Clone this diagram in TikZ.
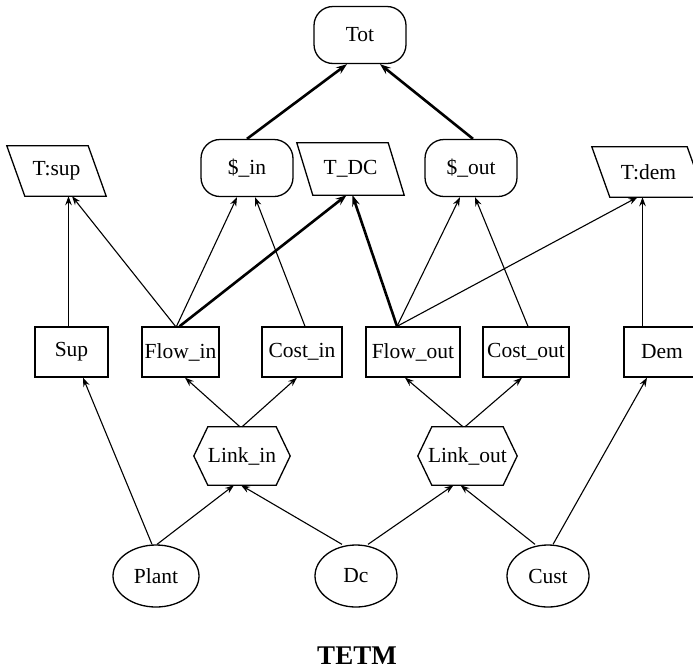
\documentclass[tikz,border=0pt]{standalone}
\usepackage{fontspec}
\setmainfont{Liberation Serif}
\usetikzlibrary{arrows.meta,shapes.geometric}

% slanted (parallelogram) frame around a plain node
\newcommand\slantframe[2]{%
  \draw[line width=1.3pt] ([xshift=-#2]#1.north west) -- ([xshift=-#2]#1.north east)
    -- ([xshift=#2]#1.south east) -- ([xshift=#2]#1.south west) -- cycle;}
% hexagonal frame around a plain node
\newcommand\hexframe[2]{%
  \draw[line width=1.3pt] (#1.west) -- ([xshift=#2]#1.north west) -- ([xshift=-#2]#1.north east)
    -- (#1.east) -- ([xshift=-#2]#1.south east) -- ([xshift=#2]#1.south west) -- cycle;}

\begin{document}
\begin{tikzpicture}[x=1pt,y=-1pt,
  every node/.style={font=\fontsize{21.5}{24}\selectfont, inner sep=0pt},
  roundbox/.style={draw, line width=1.3pt, rounded corners=19pt, minimum width=92pt, minimum height=57pt},
  sqbox/.style={draw, line width=1.3pt, minimum height=50pt},
  oval/.style={draw, ellipse, line width=1.3pt, minimum height=62pt},
  plainbox/.style={minimum height=50pt},
  hexbox/.style={minimum height=58pt},
  link/.style={-{Stealth[length=9pt,width=6.5pt,inset=3pt]}, line width=1.1pt},
  heavy/.style={-{Stealth[length=11pt,width=8pt,inset=4pt]}, line width=2.6pt}
]
\useasboundingbox (0,0) rectangle (693,670);
\clip (0,0) rectangle (693,670);

% top level
\node[roundbox] (tot) at (360,35) {Tot};
\node[roundbox] (sin) at (247,168) {\$\_in};
\node[roundbox] (sout) at (471,168) {\$\_out};

% slanted totals
\node[plainbox, minimum width=81pt] (tsup) at (56.5,171) {T:sup};
\node[plainbox, minimum width=91pt, minimum height=52pt] (tdc) at (350.5,169) {T\_DC};
\node[plainbox, minimum width=95pt] (tdem) at (648.5,172) {T:dem};
\slantframe{tsup}{9pt}
\slantframe{tdc}{8pt}
\slantframe{tdem}{9pt}

% middle row
\node[sqbox, minimum width=73pt] (sup) at (71.5,352) {Sup};
\node[sqbox, minimum width=77pt] (flowin) at (180.5,352) {Flow\_in};
\node[sqbox, minimum width=80pt] (costin) at (302,352) {Cost\_in};
\node[sqbox, minimum width=94pt] (flowout) at (413,352) {Flow\_out};
\node[sqbox, minimum width=86pt] (costout) at (526,352) {Cost\_out};
\node[sqbox, minimum width=76pt] (dem) at (662,352) {Dem};

% links
\node[hexbox, minimum width=96pt] (linkin) at (242,456) {Link\_in};
\node[hexbox, minimum width=99pt] (linkout) at (467.5,456) {Link\_out};
\hexframe{linkin}{14pt}
\hexframe{linkout}{14pt}

% entities
\node[oval, minimum width=86pt] (plant) at (156,576) {Plant};
\node[oval, minimum width=82pt] (dc) at (356,576) {Dc};
\node[oval, minimum width=82pt] (cust) at (548,576) {Cust};

\node[font=\fontsize{27}{30}\selectfont\bfseries] (title) at (357,656) {TETM};

% connectors
\draw[heavy] (sin.north) -- ([xshift=-13pt]tot.south);
\draw[heavy] ([xshift=2pt]sout.north) -- ([xshift=20pt]tot.south);

\draw[link] ([xshift=-3pt]sup.north) -- ([xshift=12pt]tsup.south);
\draw[link] ([xshift=-5pt]flowin.north) -- ([xshift=15.5pt]tsup.south);
\draw[link] ([xshift=-4pt]flowin.north) -- ([xshift=-10pt]sin.south);
\draw[heavy] ([xshift=-1pt]flowin.north) -- ([xshift=-4pt]tdc.south);
\draw[link] ([xshift=3pt]costin.north) -- ([xshift=8pt]sin.south);

\draw[heavy] ([xshift=-16pt]flowout.north) -- ([xshift=2pt]tdc.south);
\draw[link] ([xshift=-16pt]flowout.north) -- ([xshift=-11pt]sout.south);
\draw[link] ([xshift=-16pt]flowout.north) -- ([xshift=-11pt]tdem.south);
\draw[link] ([xshift=2pt]costout.north) -- ([xshift=4pt]sout.south);
\draw[link] ([xshift=-19.5pt]dem.north) -- ([xshift=-6pt]tdem.south);

\draw[link] ([xshift=-2pt]linkin.north) -- ([xshift=4.5pt]flowin.south);
\draw[link] (linkin.north) -- ([xshift=-5pt]costin.south);
\draw[link] ([xshift=-4.5pt]linkout.north) -- ([xshift=-8pt]flowout.south);
\draw[link] ([xshift=-2.5pt]linkout.north) -- ([xshift=-4pt]costout.south);

\draw[link] ([xshift=-4pt]plant.north) -- ([xshift=11.5pt]sup.south);
\draw[link] ([xshift=1pt]plant.north) -- ([xshift=-8pt]linkin.south);
\draw[link] ([xshift=-14pt]dc.north) -- ([xshift=-1pt]linkin.south);
\draw[link] ([xshift=12pt]dc.north) -- ([xshift=-14pt]linkout.south);
\draw[link] ([xshift=-13pt]cust.north) -- ([xshift=-7pt]linkout.south);
\draw[link] ([xshift=5pt]cust.north) -- ([xshift=-15pt]dem.south);
\end{tikzpicture}
\end{document}
